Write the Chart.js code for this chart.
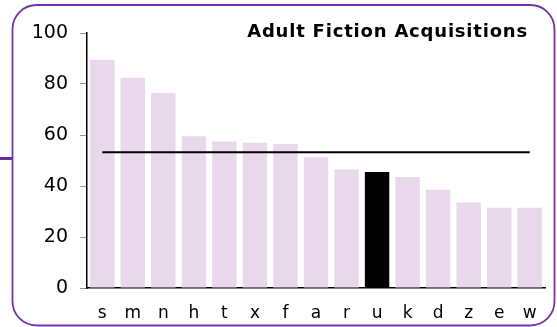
<!DOCTYPE html>
<html>
<head>
<meta charset="utf-8">
<script src="https://cdn.jsdelivr.net/npm/chart.js@4"></script>
<style>
  html, body { margin: 0; padding: 0; background: #fff; }
  #wrap { width: 557px; height: 327px; }
</style>
</head>
<body>
<div id="wrap"><canvas id="myChart" width="557" height="327"></canvas></div>
<script>
// branch codes and adult fiction acquisitions
var branches = ['s', 'm', 'n', 'h', 't', 'x', 'f', 'a', 'r', 'u', 'k', 'd', 'z', 'e', 'w'];
var acquisitions = [89.5, 82.5, 76.5, 59.5, 57.5, 57, 56.5, 51.5, 46.5, 45.5, 43.5, 38.5, 33.5, 31.5, 31.5];
var average = 53.2;
var highlight = 'u';
var yTicks = [0, 20, 40, 60, 80, 100];

var titleText = 'Adult Fiction Acquisitions';
var fontFamily = '"DejaVu Sans", Verdana, sans-serif';

var barColors = branches.map(function(b) { return b === highlight ? '#000000' : '#e9d8eb'; });
var avgLine = branches.map(function() { return average; });

// rounded frame, small tab on the left and the title
var framePlugin = {
    id: 'frame',
    afterDraw: function(chart) {
        var c = chart.ctx;
        c.save();
        c.strokeStyle = '#7434a8';
        c.lineWidth = 1.8;
        c.beginPath();
        c.roundRect(12.5, 5, 542, 320.5, 24);
        c.stroke();
        c.fillStyle = '#6a2c96';
        c.fillRect(0, 157, 12, 3);
        c.fillStyle = '#000';
        c.font = 'bold 18px ' + fontFamily;
        c.letterSpacing = '0.8px';
        c.textAlign = 'right';
        c.textBaseline = 'alphabetic';
        c.fillText(titleText, 528, 37);
        c.restore();
    }
};

var ctx = document.getElementById('myChart').getContext('2d');

var chart = new Chart(ctx, {
    type: 'bar',
    data: {
        labels: branches,
        datasets: [
            {
                type: 'line',
                label: 'Average',
                data: avgLine,
                borderColor: '#000',
                borderWidth: 2,
                pointRadius: 0,
                fill: false,
                order: 0
            },
            {
                label: 'Acquisitions',
                data: acquisitions,
                backgroundColor: barColors,
                barPercentage: 0.8,
                categoryPercentage: 1.0,
                order: 1
            }
        ]
    },
    options: {
        responsive: false,
        animation: false,
        layout: { padding: { left: 0, right: 12, top: 33, bottom: 0 } },
        plugins: {
            legend: { display: false },
            title: { display: false },
            tooltip: { enabled: false }
        },
        scales: {
            x: {
                grid: { display: false, drawTicks: false },
                border: { color: '#000', width: 1.5 },
                ticks: {
                    color: '#000',
                    padding: 15,
                    font: { family: fontFamily, size: 17 }
                },
                afterFit: function(s) { s.height = 39; }
            },
            y: {
                min: 0,
                max: 100,
                afterBuildTicks: function(s) { s.ticks = yTicks.map(function(v) { return { value: v }; }); },
                grid: { drawOnChartArea: false, tickLength: 7, color: '#999' },
                border: { color: '#000', width: 1.5 },
                ticks: {
                    color: '#000',
                    padding: 12,
                    font: { family: fontFamily, size: 19 }
                },
                afterFit: function(s) { s.width = 87; }
            }
        }
    },
    plugins: [framePlugin]
});
</script>
</body>
</html>
